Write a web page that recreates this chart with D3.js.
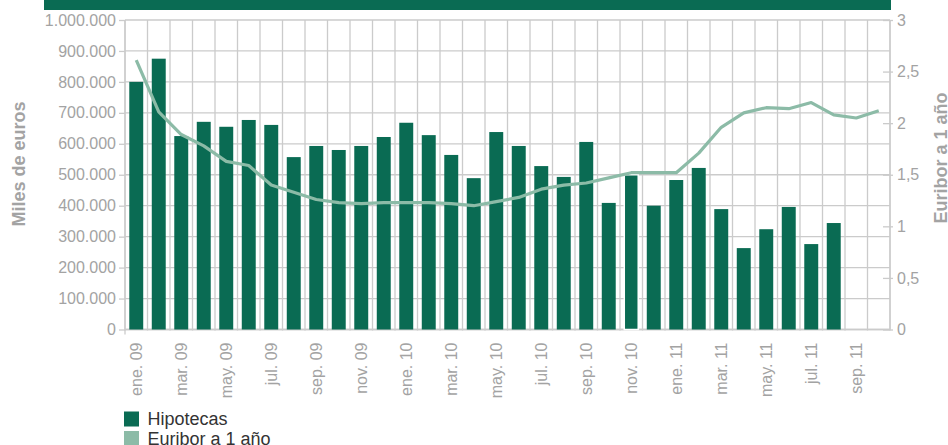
<!DOCTYPE html>
<html><head><meta charset="utf-8">
<script src="https://cdn.jsdelivr.net/npm/d3@7"></script>
<style>
html,body{margin:0;padding:0;background:#fff;}
svg{display:block;font-family:"Liberation Sans",Arial,sans-serif;}
</style></head>
<body>
<svg id="chart" width="948" height="445"></svg>
<script>
const months = ["ene. 09","feb. 09","mar. 09","abr. 09","may. 09","jun. 09","jul. 09","ago. 09","sep. 09","oct. 09","nov. 09","dic. 09",
"ene. 10","feb. 10","mar. 10","abr. 10","may. 10","jun. 10","jul. 10","ago. 10","sep. 10","oct. 10","nov. 10","dic. 10",
"ene. 11","feb. 11","mar. 11","abr. 11","may. 11","jun. 11","jul. 11","ago. 11","sep. 11","oct. 11"];
const tickLabels = ["ene. 09","mar. 09","may. 09","jul. 09","sep. 09","nov. 09","ene. 10","mar. 10","may. 10","jul. 10","sep. 10","nov. 10","ene. 11","mar. 11","may. 11","jul. 11","sep. 11"];
const hipotecas = [800000,875000,625000,671000,655000,677000,661000,557000,593000,580000,593000,622000,
668000,628000,564000,489000,638000,593000,528000,493000,606000,409000,500000,400000,
483000,522000,389000,263000,324000,396000,276000,344000,null,null];
const euribor = [2.61,2.11,1.89,1.78,1.63,1.59,1.40,1.33,1.26,1.23,1.22,1.23,
1.23,1.23,1.22,1.20,1.24,1.28,1.36,1.40,1.42,1.47,1.52,1.52,
1.52,1.71,1.96,2.10,2.15,2.14,2.20,2.08,2.05,2.12];
const leftTicks = [0,100000,200000,300000,400000,500000,600000,700000,800000,900000,1000000];
const rightTicks = [0,0.5,1,1.5,2,2.5,3];
const highlighted = ["nov. 10"];

const C = {bar:"#0a6b53", line:"#8cbba7", grid:"#cbcbcb", text:"#a3a3a3", legend:"#333333"};
const L = 125, R = 890, T = 20, B = 329.5;

const loc = d3.formatLocale({decimal:",",thousands:".",grouping:[3],currency:["","€"]});
const fmtL = loc.format(",.0f");
const fmtR = v => loc.format(",")(v);

const svg = d3.select("#chart");
const x = d3.scaleBand().domain(months).range([L,R]).paddingInner(0).paddingOuter(0);
const yL = d3.scaleLinear().domain([0,1000000]).range([B,T]);
const yR = d3.scaleLinear().domain([0,3]).range([B,T]);
const bw = x.bandwidth()*0.62;

// top band
svg.append("rect").attr("x",44).attr("y",0).attr("width",R-44+1).attr("height",10).attr("fill",C.bar);

// grid
const g = svg.append("g");
g.selectAll("line.h").data(leftTicks).join("line")
  .attr("x1",L).attr("x2",R).attr("y1",d=>yL(d)).attr("y2",d=>yL(d))
  .attr("stroke",C.grid).attr("stroke-width",1.3);
const bounds = months.map(m=>x(m)).concat([R]);
g.selectAll("line.v").data(bounds).join("line")
  .attr("x1",d=>d).attr("x2",d=>d).attr("y1",T).attr("y2",B+1)
  .attr("stroke",C.grid).attr("stroke-width",1.3);

// left axis
const axL = svg.append("g").attr("transform",`translate(${L},0)`)
  .call(d3.axisLeft(yL).tickValues(leftTicks).tickFormat(fmtL).tickSize(6).tickPadding(3));
axL.select(".domain").attr("stroke",C.grid).attr("stroke-width",1.3).attr("d",`M0,${T}V${B+5}`);
axL.selectAll(".tick line").attr("stroke",C.grid).attr("stroke-width",1.3);
axL.selectAll("text").attr("fill",C.text).style("font-size","16px").style("font-family","'Liberation Sans',Arial,sans-serif");

// right axis
const axR = svg.append("g").attr("transform",`translate(${R},0)`)
  .call(d3.axisRight(yR).tickValues(rightTicks).tickFormat(fmtR).tickSize(3).tickPadding(4));
axR.select(".domain").attr("stroke",C.grid).attr("stroke-width",1.3).attr("d",`M0,${T}V${B}`);
axR.selectAll(".tick line").attr("stroke",C.grid).attr("stroke-width",1.3).attr("x1",-7);
axR.selectAll("text").attr("fill",C.text).style("font-size","16px").style("font-family","'Liberation Sans',Arial,sans-serif");

// bottom axis line
svg.append("line").attr("x1",L).attr("x2",R).attr("y1",B).attr("y2",B).attr("stroke",C.grid).attr("stroke-width",1.3);

// x labels
const axB = svg.append("g").attr("transform",`translate(0,${B})`)
  .call(d3.axisBottom(x).tickValues(tickLabels).tickSize(0).tickPadding(0));
axB.select(".domain").remove();
axB.selectAll("text").attr("fill",C.text).style("font-size","16px").style("font-family","'Liberation Sans',Arial,sans-serif")
  .attr("text-anchor","end").attr("transform","rotate(-90)").attr("x",-13).attr("y",0).attr("dy","0.35em");

// bars
const barData = months.map((m,i)=>({m, v:hipotecas[i]})).filter(d=>d.v!=null);
svg.append("g").selectAll("rect").data(barData).join("rect")
  .attr("x",d=>x(d.m)+(x.bandwidth()-bw)/2).attr("width",bw)
  .attr("y",d=>yL(d.v)).attr("height",d=>B-yL(d.v))
  .attr("fill",C.bar)
  .attr("stroke",d=>highlighted.includes(d.m)?"#ffffff":"none")
  .attr("stroke-width",1.5);

// line
const line = d3.line().x((d,i)=>x(months[i])+x.bandwidth()/2).y(d=>yR(d));
svg.append("path").datum(euribor).attr("d",line).attr("fill","none")
  .attr("stroke",C.line).attr("stroke-width",3.2).attr("stroke-linejoin","round");

// axis titles
svg.append("text").attr("transform","translate(25,164) rotate(-90)").attr("text-anchor","middle")
  .attr("fill",C.text).style("font-size","18px").style("font-weight","bold").text("Miles de euros");
svg.append("text").attr("transform","translate(946.5,158) rotate(-90)").attr("text-anchor","middle")
  .attr("fill",C.text).style("font-size","18px").style("font-weight","bold").text("Euribor a 1 año");

// legend
const legend = [{name:"Hipotecas",color:C.bar},{name:"Euribor a 1 año",color:C.line}];
const lg = svg.append("g").selectAll("g").data(legend).join("g")
  .attr("transform",(d,i)=>`translate(124,${411.5+i*19.5})`);
lg.append("rect").attr("width",15).attr("height",15).attr("fill",d=>d.color);
lg.append("text").attr("x",23.5).attr("y",13.5).attr("fill",C.legend).style("font-size","18px").text(d=>d.name);
</script>
</body></html>
